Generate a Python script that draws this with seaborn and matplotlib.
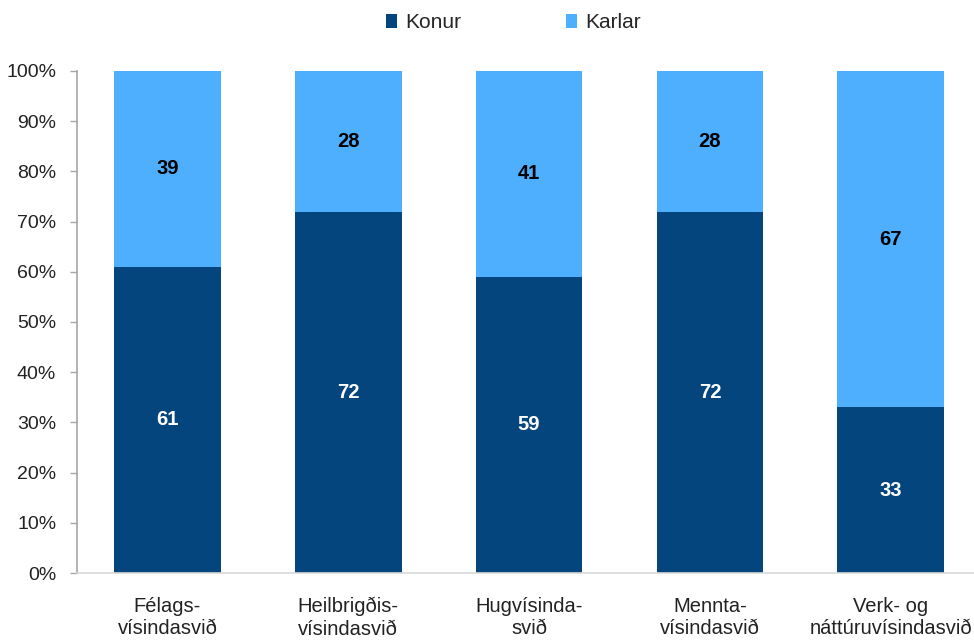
import matplotlib
matplotlib.use("Agg")
import matplotlib.pyplot as plt
import seaborn as sns
import pandas as pd
from matplotlib.patches import Patch
from matplotlib.ticker import FuncFormatter

categories = ["Félags-\nvísindasvið", "Heilbrigðis-\nvísindasvið", "Hugvísinda-\nsvið",
              "Mennta-\nvísindasvið", "Verk- og\nnáttúruvísindasvið"]
konur = [61, 72, 59, 72, 33]
karlar = [39, 28, 41, 28, 67]
series_names = ["Konur", "Karlar"]

c_konur = "#03457C"
c_karlar = "#4FAFFF"

sns.set_theme(style="white")
plt.rcParams['font.family'] = ['Liberation Sans', 'DejaVu Sans']

df = pd.DataFrame({"cat": categories, "konur": konur, "karlar": karlar})
df["total"] = df["konur"] + df["karlar"]

fig = plt.figure(figsize=(9.74, 6.4), dpi=100)
ax = fig.add_axes([77/974, 1-573/640, 1-77/974, (573-71)/640])

sns.barplot(data=df, x="cat", y="total", color=c_karlar, width=0.59, ax=ax,
            saturation=1, edgecolor="none")
sns.barplot(data=df, x="cat", y="konur", color=c_konur, width=0.59, ax=ax,
            saturation=1, edgecolor="none")

for i, (k, m) in enumerate(zip(konur, karlar)):
    ax.text(i, k / 2, f"{k}", ha="center", va="center", color="white",
            fontsize=14.5, fontweight="bold")
    ax.text(i, k + m / 2, f"{m}", ha="center", va="center", color="black",
            fontsize=14.5, fontweight="bold")

ax.set_xlim(-0.5, 4.46)
ax.set_ylim(0, 100)
ax.set_yticks(range(0, 101, 10))
ax.yaxis.set_major_formatter(FuncFormatter(lambda v, p: f"{int(v)}%"))
ax.set_xlabel("")
ax.set_ylabel("")

for s in ["top", "right"]:
    ax.spines[s].set_visible(False)
ax.spines["left"].set_color("#A6A6A6")
ax.spines["left"].set_linewidth(1.2)
ax.spines["bottom"].set_color("#D9D9D9")
ax.spines["bottom"].set_linewidth(1.2)

ax.tick_params(axis="y", which="both", left=True, length=5, width=1, color="#A6A6A6",
               labelsize=14, labelcolor="#222222", pad=10)
ax.tick_params(axis="x", length=0, labelsize=14.5, labelcolor="#222222", pad=17)
for lbl in ax.get_xticklabels():
    lbl.set_linespacing(1.25)

handles = [Patch(facecolor=c_konur, edgecolor="none"), Patch(facecolor=c_karlar, edgecolor="none")]
fig.legend(handles, series_names, loc="center", bbox_to_anchor=(0.527, 1 - 23/640), ncol=2,
           frameon=False, fontsize=15, handlelength=0.55, handleheight=0.65,
           handletextpad=0.4, columnspacing=5.0)

fig.savefig("out.png", dpi=100)
